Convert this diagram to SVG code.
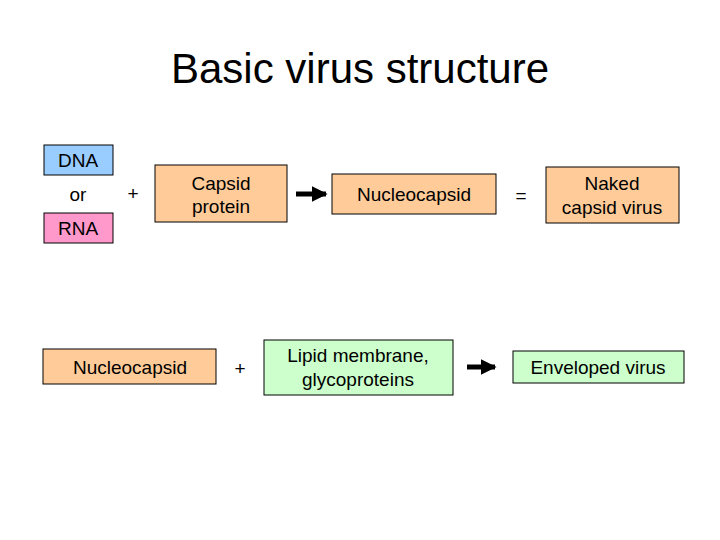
<svg xmlns="http://www.w3.org/2000/svg" width="720" height="540" viewBox="0 0 720 540">
<defs>
<style>
text{font-family:"Liberation Sans",Arial,sans-serif;font-size:19px;text-anchor:middle;fill:#000}
.b{stroke:#000;stroke-width:1}
.o{fill:#FFCC99}.g{fill:#CCFFCC}
</style>
<marker id="ah" viewBox="0 0 10 10" refX="9" refY="5" markerWidth="3.2" markerHeight="3.2" orient="auto"><path d="M0,0L10,5L0,10z" fill="#000"/></marker>
</defs>
<rect width="720" height="540" fill="#fff"/>
<text x="360" y="83" style="font-size:42px">Basic virus structure</text>
<g id="dna"><rect class="b" x="44" y="145" width="69" height="30" fill="#99CCFF"/><text x="78" y="167">DNA</text></g>
<g id="or"><text x="78" y="201">or</text></g>
<g id="rna"><rect class="b" x="44" y="213" width="69" height="30" fill="#FF99CC"/><text x="78" y="235">RNA</text></g>
<g id="plus1"><text x="133" y="200">+</text></g>
<g id="capsid"><rect class="b o" x="155" y="165" width="132" height="57"/><text x="221" y="190">Capsid</text><text x="221" y="213">protein</text></g>
<g id="nuc1"><rect class="b o" x="332" y="174" width="164" height="40"/><text x="414" y="201">Nucleocapsid</text></g>
<g id="eq"><text x="521" y="202">=</text></g>
<g id="naked"><rect class="b o" x="546" y="167" width="133" height="56"/><text x="612" y="190">Naked</text><text x="612" y="214">capsid virus</text></g>
<g id="nuc2"><rect class="b o" x="43" y="349" width="173" height="35"/><text x="130" y="374">Nucleocapsid</text></g>
<g id="plus2"><text x="240" y="375">+</text></g>
<g id="lipid"><rect class="b g" x="264" y="340" width="189" height="55"/><text x="358" y="362">Lipid membrane,</text><text x="358" y="386">glycoproteins</text></g>
<g id="env"><rect class="b g" x="513" y="351" width="171" height="32"/><text x="598" y="374">Enveloped virus</text></g>
<g id="connectors" stroke="#000" stroke-width="5" marker-end="url(#ah)">
<line x1="296" y1="194" x2="326" y2="194"/>
<line x1="467" y1="367" x2="495" y2="367"/>
</g>
</svg>
